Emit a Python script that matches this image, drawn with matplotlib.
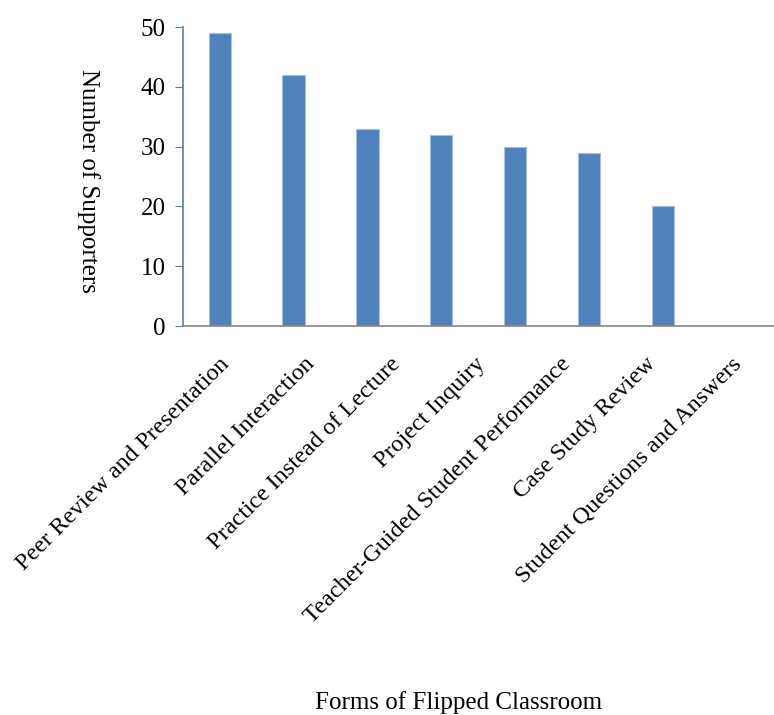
import matplotlib
matplotlib.use('Agg')
from matplotlib import pyplot as plt
from matplotlib.transforms import ScaledTranslation

plt.rcParams['font.family'] = ['Liberation Serif', 'DejaVu Serif']

# Forms of flipped classroom and how many respondents supported each.
forms = ['Peer Review and Presentation', 'Parallel Interaction',
         'Practice Instead of Lecture', 'Project Inquiry',
         'Teacher-Guided Student Performance', 'Case Study Review',
         'Student Questions and Answers']
supporters = [49, 42, 33, 32, 30, 29, 20]
y_ticks = [0, 10, 20, 30, 40, 50]

BLUE = '#4F81BD'
fig = plt.figure(figsize=(7.74, 7.15), dpi=100)
ax = fig.add_axes([0.236, 0.544, 0.764, 0.418])

ax.bar(range(len(forms)), supporters, width=0.3, color=BLUE,
       edgecolor='#A7BFDE', linewidth=0.8, zorder=2)

ax.set_xlim(-0.5, len(forms) + 0.5)
ax.set_ylim(0, 50)
ax.set_yticks(y_ticks)
ax.tick_params(axis='y', direction='out', length=6, color=BLUE,
               labelsize=18, pad=6)
ax.tick_params(axis='x', length=0, labelsize=17.5)

ax.set_xticks(range(len(forms)))
ax.set_xticklabels(forms, rotation=45, ha='right', va='center',
                   rotation_mode='anchor')
# category labels fan out a little wider than the bars
for i, lbl in enumerate(ax.get_xticklabels()):
    offset = ScaledTranslation(0.07 + 0.113 * i, -0.3, fig.dpi_scale_trans)
    lbl.set_transform(lbl.get_transform() + offset)

for side in ('top', 'right'):
    ax.spines[side].set_visible(False)
ax.spines['left'].set_color(BLUE)
ax.spines['left'].set_linewidth(1.2)
ax.spines['bottom'].set_color('#868686')
ax.spines['bottom'].set_linewidth(1.2)

fig.text(0.114, 0.747, 'Number of Supporters', rotation=270,
         ha='center', va='center', fontsize=18)
fig.text(0.592, 0.018, 'Forms of Flipped Classroom',
         ha='center', va='center', fontsize=18)

fig.savefig('out.png', dpi=100)
